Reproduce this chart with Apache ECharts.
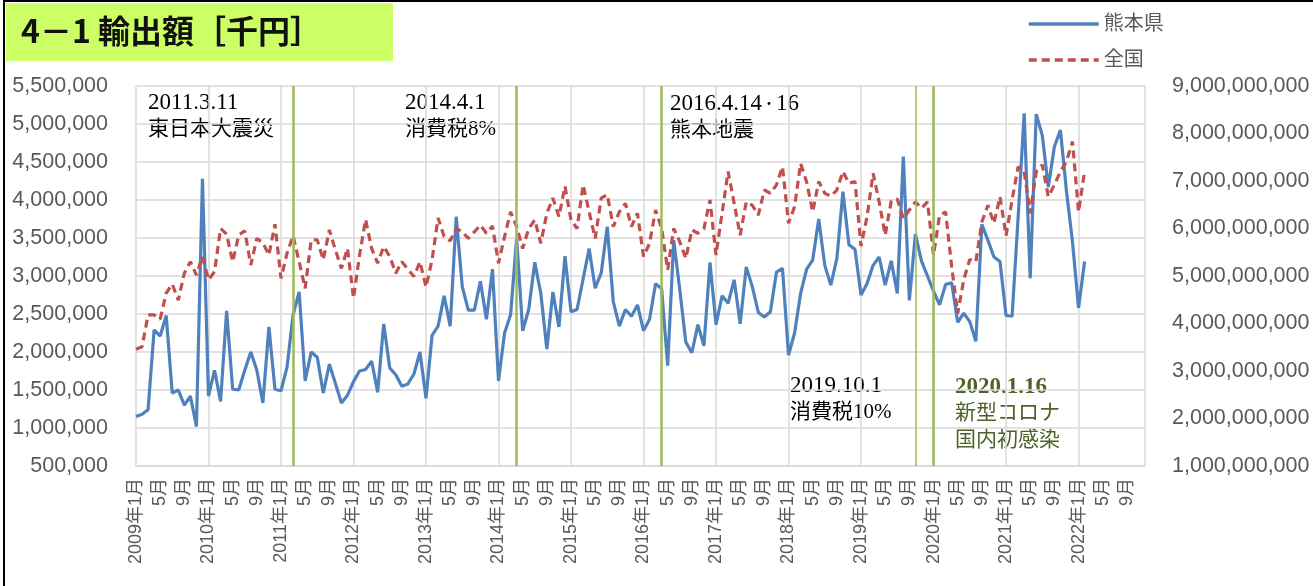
<!DOCTYPE html>
<html>
<head>
<meta charset="utf-8">
<script src="https://cdn.jsdelivr.net/npm/echarts@6/dist/echarts.min.js"></script>
<style>
  html, body { margin: 0; padding: 0; background: #fff; }
  #main { width: 1313px; height: 586px; }
</style>
</head>
<body>
<div id="main"></div>
<script>
// 月次カテゴリ 2009年1月〜2022年12月
var months = [];
for (var y = 2009; y <= 2022; y++) {
  for (var m = 1; m <= 12; m++) months.push(y + '年' + m + '月');
}

// 熊本県 輸出額 [千円]（左軸）
var kumamoto = [
  1150000, 1180000, 1240000, 2290000, 2210000, 2480000, 1460000, 1500000, 1300000, 1420000, 1020000, 4280000,
  1420000, 1760000, 1350000, 2540000, 1510000, 1500000, 1760000, 2000000, 1760000, 1330000, 2330000, 1510000,
  1490000, 1800000, 2490000, 2790000, 1620000, 2000000, 1930000, 1460000, 1840000, 1590000, 1330000, 1430000,
  1610000, 1750000, 1770000, 1880000, 1470000, 2370000, 1790000, 1700000, 1550000, 1580000, 1710000, 2000000,
  1390000, 2220000, 2340000, 2740000, 2340000, 3780000, 2860000, 2550000, 2550000, 2930000, 2430000, 3090000,
  1620000, 2250000, 2490000, 3500000, 2280000, 2560000, 3180000, 2770000, 2040000, 2790000, 2330000, 3260000,
  2530000, 2560000, 2960000, 3360000, 2840000, 3040000, 3650000, 2660000, 2340000, 2560000, 2470000, 2620000,
  2280000, 2430000, 2900000, 2830000, 1820000, 3470000, 2820000, 2130000, 1990000, 2360000, 2080000, 3180000,
  2360000, 2740000, 2640000, 2950000, 2370000, 3120000, 2860000, 2520000, 2460000, 2530000, 3050000, 3100000,
  1960000, 2250000, 2770000, 3090000, 3210000, 3750000, 3140000, 2880000, 3230000, 4110000, 3410000, 3350000,
  2750000, 2900000, 3140000, 3250000, 2880000, 3200000, 2770000, 4570000, 2680000, 3550000, 3200000, 3000000,
  2800000, 2620000, 2890000, 2910000, 2390000, 2510000, 2400000, 2140000, 3680000, 3470000, 3250000, 3190000,
  2480000, 2470000, 3770000, 5140000, 2970000, 5130000, 4850000, 4170000, 4700000, 4920000, 4120000, 3450000,
  2580000, 3190000
];

// 全国 輸出額 [千円]（右軸）
var zenkoku = [
  3.46e9, 3.51e9, 4.18e9, 4.18e9, 4.09e9, 4.64e9, 4.83e9, 4.49e9, 5.06e9, 5.30e9, 5.02e9, 5.41e9,
  4.92e9, 5.09e9, 6.00e9, 5.88e9, 5.30e9, 5.86e9, 5.95e9, 5.23e9, 5.79e9, 5.70e9, 5.44e9, 6.09e9,
  4.95e9, 5.48e9, 5.85e9, 5.30e9, 4.74e9, 5.76e9, 5.76e9, 5.34e9, 5.97e9, 5.55e9, 5.16e9, 5.58e9,
  4.53e9, 5.44e9, 6.19e9, 5.58e9, 5.27e9, 5.62e9, 5.41e9, 5.06e9, 5.30e9, 5.14e9, 4.99e9, 5.30e9,
  4.77e9, 5.34e9, 6.22e9, 5.83e9, 5.74e9, 6.00e9, 5.93e9, 5.79e9, 5.93e9, 6.07e9, 5.90e9, 6.05e9,
  5.27e9, 5.83e9, 6.35e9, 6.04e9, 5.58e9, 6.00e9, 6.18e9, 5.69e9, 6.32e9, 6.64e9, 6.25e9, 6.89e9,
  6.18e9, 6.00e9, 6.92e9, 6.35e9, 5.79e9, 6.64e9, 6.71e9, 6.04e9, 6.35e9, 6.53e9, 6.04e9, 6.32e9,
  5.41e9, 5.69e9, 6.39e9, 6.00e9, 5.13e9, 6.00e9, 5.72e9, 5.37e9, 5.97e9, 5.90e9, 6.00e9, 6.60e9,
  5.44e9, 6.32e9, 7.20e9, 6.53e9, 5.86e9, 6.56e9, 6.49e9, 6.28e9, 6.81e9, 6.74e9, 6.92e9, 7.30e9,
  6.11e9, 6.46e9, 7.37e9, 6.98e9, 6.35e9, 6.99e9, 6.74e9, 6.68e9, 6.81e9, 7.20e9, 6.95e9, 6.99e9,
  5.63e9, 6.25e9, 7.16e9, 6.56e9, 5.86e9, 6.58e9, 6.62e9, 6.21e9, 6.39e9, 6.56e9, 6.43e9, 6.56e9,
  5.44e9, 6.28e9, 6.35e9, 5.20e9, 4.21e9, 4.92e9, 5.35e9, 5.30e9, 6.14e9, 6.49e9, 6.11e9, 6.67e9,
  5.85e9, 6.60e9, 7.30e9, 7.20e9, 6.32e9, 7.20e9, 7.34e9, 6.67e9, 6.92e9, 7.20e9, 7.41e9, 7.83e9,
  6.35e9, 7.20e9
];

// 出来事の縦線
var eventMonths = ['2011年3月', '2014年4月', '2016年4月', '2019年10月', '2020年1月'];
var eventWidths = [2.5, 2.5, 2.5, 1.5, 2.5];

var gray = '#595959';
var gridColor = '#D9D9D9';
var latin = "'Liberation Sans', 'Noto Sans CJK JP', sans-serif";
var note = "'Liberation Serif', 'Noto Sans CJK JP', serif";

var chart = echarts.init(document.getElementById('main'));

function noteText(x, y, text, size, color, bold) {
  return {
    type: 'text',
    x: x,
    y: y,
    silent: true,
    style: {
      text: text,
      fill: color || '#000',
      font: (bold ? 'bold ' : '') + size + 'px ' + note,
      verticalAlign: 'middle',
      rich: {
        dot: { fontSize: 14, fontFamily: note, fill: color || '#000' }
      }
    }
  };
}

var option = {
  backgroundColor: '#ffffff',
  animation: false,
  grid: { left: 136, right: 168, top: 86, bottom: 120 },
  legend: {
    orient: 'vertical',
    left: 1027,
    top: 14,
    padding: 0,
    itemWidth: 70,
    itemHeight: 20,
    itemGap: 16,
    itemStyle: { opacity: 0 },
    lineStyle: { width: 3.5 },
    textStyle: { color: gray, fontSize: 20, fontFamily: latin },
    data: ['熊本県', '全国']
  },
  xAxis: {
    type: 'category',
    data: months,
    boundaryGap: false,
    axisLine: { lineStyle: { color: gridColor, width: 1.5 } },
    axisTick: { show: false },
    axisLabel: {
      interval: 3,
      rotate: 90,
      margin: 12,
      color: gray,
      fontSize: 18,
      fontFamily: latin,
      formatter: function (v) {
        return /年1月$/.test(v) ? v : v.replace(/^\d+年/, '');
      }
    },
    splitLine: {
      show: true,
      interval: function (i) { return i % 12 === 0; },
      lineStyle: { color: gridColor, width: 1.5 }
    }
  },
  yAxis: [{
    type: 'value',
    min: 500000,
    max: 5500000,
    interval: 500000,
    axisLine: { show: false },
    axisTick: { show: false },
    axisLabel: { margin: 28, color: gray, fontSize: 21.5, fontFamily: latin },
    splitLine: { lineStyle: { color: gridColor, width: 1.5 } }
  }, {
    type: 'value',
    position: 'right',
    min: 1000000000,
    max: 9000000000,
    interval: 1000000000,
    axisLine: { show: true, lineStyle: { color: gridColor, width: 1.5 } },
    axisTick: { show: false },
    axisLabel: { margin: 27, color: gray, fontSize: 21.5, fontFamily: latin },
    splitLine: { show: false }
  }],
  series: [{
    name: '熊本県',
    type: 'line',
    data: kumamoto,
    symbol: 'none',
    lineStyle: { color: '#4F81BD', width: 3.2 },
    itemStyle: { color: '#4F81BD' },
    markLine: {
      silent: true,
      symbol: ['none', 'none'],
      label: { show: false },
      data: eventMonths.map(function (m, i) {
        return { xAxis: m, lineStyle: { color: '#9BBB59', width: eventWidths[i], type: 'solid' } };
      })
    }
  }, {
    name: '全国',
    type: 'line',
    yAxisIndex: 1,
    data: zenkoku,
    symbol: 'none',
    lineStyle: { color: '#C0504D', width: 3.2, type: [8, 5] },
    itemStyle: { color: '#C0504D' }
  }],
  graphic: [
    { type: 'rect', shape: { x: 4, y: 1, width: 1320, height: 600 }, style: { fill: 'none', stroke: '#000', lineWidth: 2 }, silent: true },
    { type: 'rect', shape: { x: 6, y: 3, width: 387, height: 58 }, style: { fill: '#CCFF66' }, silent: true },
    {
      type: 'text', x: 21, y: 31, silent: true,
      style: { text: '4－1 輸出額［千円］', fill: '#111', font: "bold 32px 'Noto Sans CJK JP', sans-serif", verticalAlign: 'middle' }
    },
    noteText(148, 103, '2011.3.11', 23),
    noteText(148, 129, '東日本大震災', 21),
    noteText(405, 103, '2014.4.1', 23),
    noteText(405, 129, '消費税8%', 21),
    noteText(670, 104, '2016.4.14{dot|・}16', 23),
    noteText(670, 130, '熊本地震', 21),
    noteText(790, 386, '2019.10.1', 23),
    noteText(790, 412, '消費税10%', 21),
    noteText(955, 387, '2020.1.16', 23, '#4F6228', true),
    noteText(955, 413, '新型コロナ', 21, '#4F6228'),
    noteText(955, 440, '国内初感染', 21, '#4F6228')
  ]
};

chart.setOption(option);
</script>
</body>
</html>
